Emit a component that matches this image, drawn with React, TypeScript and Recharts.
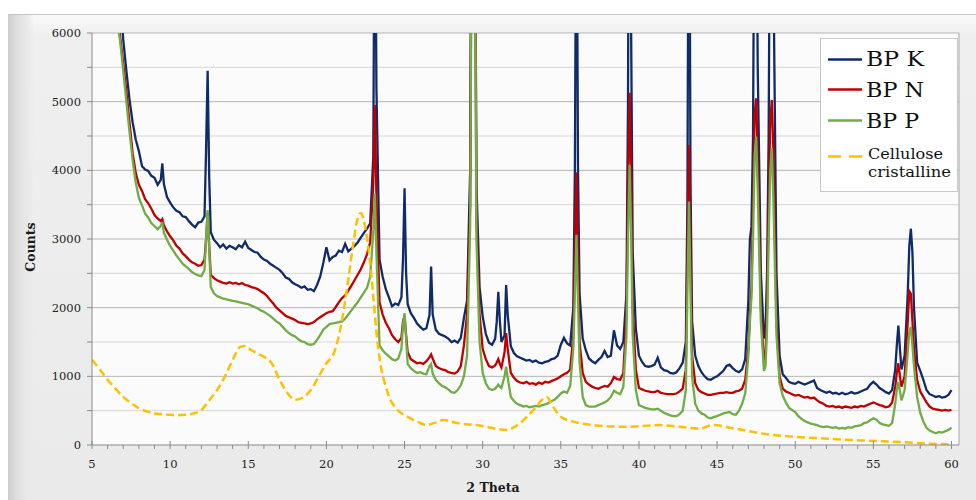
import React from "react";
import { LineChart, Line, XAxis, YAxis, CartesianGrid } from "recharts";

// 2 Theta positions (shared by the three BP series)
const twoTheta = [
  5.0,5.2,5.4,5.6,5.8,6.0,6.2,6.4,6.6,6.8,
  7.0,7.2,7.4,7.6,7.8,8.0,8.2,8.4,8.6,8.8,
  9.0,9.2,9.4,9.5,9.6,9.8,10.0,10.2,10.4,10.6,
  10.8,11.0,11.2,11.4,11.6,11.8,12.0,12.2,12.3,12.4,
  12.5,12.6,12.8,13.0,13.2,13.4,13.6,13.8,14.0,14.2,
  14.4,14.6,14.8,15.0,15.2,15.4,15.6,15.8,16.0,16.2,
  16.4,16.6,16.8,17.0,17.2,17.4,17.6,17.8,18.0,18.2,
  18.4,18.6,18.8,19.0,19.2,19.4,19.6,19.8,20.0,20.2,
  20.4,20.6,20.8,21.0,21.2,21.4,21.6,21.8,22.0,22.2,
  22.4,22.6,22.8,23.0,23.1,23.2,23.4,23.6,23.8,24.0,
  24.2,24.4,24.6,24.8,24.9,25.0,25.1,25.2,25.4,25.6,
  25.8,26.0,26.2,26.4,26.6,26.7,26.8,27.0,27.2,27.4,
  27.6,27.8,28.0,28.2,28.4,28.6,28.8,29.0,29.2,29.3,
  29.4,29.5,29.6,29.8,30.0,30.2,30.4,30.6,30.8,30.9,
  31.0,31.1,31.2,31.4,31.5,31.6,31.8,32.0,32.2,32.4,
  32.6,32.8,33.0,33.2,33.4,33.6,33.8,34.0,34.2,34.4,
  34.6,34.8,35.0,35.2,35.4,35.6,35.8,35.9,36.0,36.1,
  36.2,36.4,36.6,36.8,37.0,37.2,37.4,37.6,37.8,38.0,
  38.2,38.4,38.6,38.8,39.0,39.2,39.3,39.4,39.5,39.6,
  39.8,40.0,40.2,40.4,40.6,40.8,41.0,41.2,41.4,41.6,
  41.8,42.0,42.2,42.4,42.6,42.8,43.0,43.1,43.2,43.3,
  43.4,43.6,43.8,44.0,44.2,44.4,44.6,44.8,45.0,45.2,
  45.4,45.6,45.8,46.0,46.2,46.4,46.6,46.8,47.0,47.1,
  47.2,47.3,47.4,47.5,47.6,47.8,48.0,48.1,48.2,48.3,
  48.4,48.5,48.6,48.8,49.0,49.2,49.4,49.6,49.8,50.0,
  50.2,50.4,50.6,50.8,51.0,51.2,51.4,51.6,51.8,52.0,
  52.2,52.4,52.6,52.8,53.0,53.2,53.4,53.6,53.8,54.0,
  54.2,54.4,54.6,54.8,55.0,55.2,55.4,55.6,55.8,56.0,
  56.2,56.4,56.5,56.6,56.7,56.8,57.0,57.2,57.3,57.4,
  57.5,57.6,57.8,58.0,58.2,58.4,58.6,58.8,59.0,59.2,
  59.4,59.6,59.8,60.0,
];

const bpK = [
  16000,14500,13000,11800,10600,9600,8700,7900,7200,6500,
  5900,5450,5030,4700,4450,4280,4060,4010,3990,3920,
  3890,3790,3860,4100,3800,3610,3530,3460,3410,3390,
  3330,3320,3260,3210,3170,3240,3250,3330,4300,5450,
  3900,3100,2990,2940,2880,2920,2860,2900,2880,2850,
  2910,2880,2960,2870,2840,2810,2800,2740,2700,2680,
  2640,2610,2580,2550,2500,2440,2420,2370,2340,2320,
  2290,2310,2260,2270,2240,2330,2450,2650,2880,2690,
  2740,2760,2830,2810,2930,2820,2860,2900,2950,3020,
  3090,3150,3230,4200,9000,5200,2700,2450,2270,2150,
  2020,2060,2040,2150,2700,3740,2500,2050,1920,1850,
  1770,1720,1680,1700,1900,2600,1900,1680,1620,1600,
  1580,1550,1500,1520,1490,1560,1850,2100,4000,9000,
  15000,9000,3800,2300,1870,1620,1490,1460,1550,1800,
  2230,1800,1500,1600,2330,1900,1440,1340,1290,1270,
  1250,1230,1240,1210,1230,1200,1190,1210,1220,1250,
  1260,1300,1460,1560,1480,1450,2000,4000,9000,4000,
  2200,1550,1380,1260,1220,1190,1240,1280,1370,1280,
  1300,1670,1450,1400,1500,2200,5000,12000,6000,2800,
  1700,1300,1210,1150,1140,1150,1170,1270,1130,1090,
  1080,1050,1040,1060,1120,1200,1500,3500,10000,3800,
  1800,1300,1150,1060,1000,960,950,980,1000,1040,
  1080,1150,1170,1120,1080,1060,1100,1250,2100,3000,
  3180,4500,9000,9000,5500,2500,1550,1700,2500,4500,
  9000,10000,7000,2500,1300,1030,980,920,900,890,
  920,900,880,900,920,940,830,800,780,760,
  780,750,760,740,760,740,750,770,750,760,
  780,800,820,880,920,880,830,800,770,750,
  800,1100,1450,1740,1400,1100,1300,2200,2900,3150,
  2800,2000,1200,1080,950,800,740,720,700,710,
  690,700,730,800,
];

const bpN = [
  14000,12500,11200,10000,9000,8100,7400,6800,6300,5950,
  5550,5150,4700,4250,3960,3790,3700,3580,3520,3440,
  3350,3300,3260,3290,3200,3110,3040,2980,2900,2860,
  2790,2750,2700,2660,2640,2610,2620,2700,3000,3380,
  2900,2480,2430,2400,2380,2360,2350,2370,2350,2360,
  2340,2360,2330,2320,2300,2290,2270,2240,2210,2170,
  2110,2060,2000,1960,1920,1880,1860,1840,1820,1790,
  1780,1770,1760,1770,1790,1830,1860,1890,1920,1940,
  1950,2010,2080,2140,2180,2250,2320,2400,2480,2560,
  2660,2780,2950,3800,4950,3600,2080,1900,1780,1700,
  1600,1540,1500,1560,1800,1880,1600,1350,1250,1220,
  1190,1200,1180,1220,1280,1320,1260,1150,1120,1100,
  1090,1060,1050,1040,1070,1150,1450,1900,3500,8500,
  14000,8500,3300,1900,1400,1250,1150,1130,1160,1200,
  1250,1180,1130,1350,1630,1400,1050,980,930,910,
  900,920,890,900,880,910,890,920,910,930,
  950,970,1000,1030,1050,1100,1600,2800,3970,2700,
  1500,1050,920,880,850,830,820,840,860,850,
  900,990,960,950,1050,1900,3800,5130,3900,2000,
  1100,830,810,790,780,770,770,790,760,750,
  740,740,740,750,780,820,1100,2800,4370,2800,
  1300,900,800,770,750,730,730,740,750,760,
  760,770,760,760,780,790,820,950,1400,1900,
  2300,3500,4800,5050,4200,2000,1200,1300,2000,3500,
  4700,5025,4300,1800,1000,820,780,760,740,720,
  730,710,690,700,680,690,650,620,600,570,
  560,570,550,560,540,560,550,540,560,550,
  570,560,580,600,620,600,580,570,550,560,
  620,850,1050,1190,1000,850,1000,1800,2240,2200,
  1800,1400,950,780,700,620,560,530,520,510,
  500,510,500,510,
];

const bpP = [
  13500,12100,10900,9800,8800,7950,7250,6650,6200,5880,
  5450,5000,4560,4150,3820,3600,3490,3370,3310,3230,
  3190,3140,3190,3250,3090,2990,2900,2830,2760,2700,
  2640,2600,2560,2520,2490,2470,2460,2550,3000,3420,
  2850,2300,2210,2170,2150,2130,2120,2110,2100,2090,
  2080,2070,2060,2050,2030,2010,1990,1960,1940,1910,
  1880,1840,1800,1770,1720,1670,1630,1600,1580,1540,
  1510,1500,1470,1460,1470,1530,1600,1680,1720,1760,
  1770,1780,1790,1800,1840,1900,1960,2020,2080,2150,
  2220,2290,2450,3100,3660,2800,1450,1380,1330,1290,
  1250,1230,1260,1400,1750,1920,1550,1180,1120,1080,
  1050,1060,1040,1030,1150,1180,1040,950,900,860,
  840,810,770,760,800,870,1000,1300,3200,8000,
  13000,8000,3000,1500,1050,900,820,800,820,850,
  880,850,830,1000,1140,980,700,640,600,580,
  560,570,550,560,570,560,580,590,610,640,
  660,700,750,780,760,860,1400,2200,3060,2100,
  1200,700,580,560,560,560,580,600,620,650,
  700,790,760,740,850,1600,3000,4080,3100,1600,
  800,580,560,540,530,520,520,530,500,470,
  450,430,420,420,450,500,800,2200,3545,2200,
  1000,600,500,460,440,400,390,410,420,440,
  460,470,480,450,440,500,600,750,1300,1800,
  2150,3000,4200,4490,3700,1800,1080,1150,1700,3000,
  4000,4320,3600,1600,900,720,620,540,510,480,
  420,380,350,330,310,300,290,270,260,270,
  260,250,260,240,250,240,260,250,270,280,
  290,320,330,360,390,370,320,300,290,280,
  320,600,800,920,780,650,800,1350,1650,1720,
  1450,1150,700,470,340,250,210,190,170,190,
  180,200,220,250,
];

// Cellulose cristalline (smooth reference pattern)
const celluloseX = [
  5,5.5,6,6.5,7,7.5,8,8.5,9,9.5,
  10,10.5,11,11.5,12,12.5,13,13.5,14,14.5,
  14.8,15.2,15.6,16,16.5,17,17.5,18,18.5,19,
  19.5,20,20.5,20.9,21.3,21.7,22,22.2,22.5,22.8,
  23,23.2,23.45,23.8,24.1,24.6,25.2,26,26.4,27,
  27.5,28,28.5,29.6,30.7,31.5,32.4,33.25,34.1,34.5,
  35,35.8,37.1,39.2,41.3,42.6,43.9,44.7,46.1,47.8,
  49.9,51.5,53,55,57,58.5,60,
];
const celluloseY = [
  1240,1100,950,820,700,610,535,490,460,450,
  440,435,440,460,510,650,800,995,1240,1430,
  1440,1380,1330,1285,1190,950,760,660,690,800,
  995,1190,1350,1700,2250,2900,3300,3380,3150,2650,
  2160,1650,1190,850,655,500,410,320,290,330,
  365,340,315,290,245,220,320,510,700,560,
  410,340,290,265,290,265,240,290,240,170,
  120,100,80,60,40,20,10,
];

const xTicks = [
  5,6,7,8,9,10,11,12,13,14,15,16,17,18,19,20,21,22,23,24,25,26,27,28,29,30,
  31,32,33,34,35,36,37,38,39,40,41,42,43,44,45,46,47,48,49,50,51,52,53,54,55,56,57,58,59,60,
];
const yTicks = [0,500,1000,1500,2000,2500,3000,3500,4000,4500,5000,5500,6000];
const yMajor = [1000,2000,3000,4000,5000,6000];
const yMinor = [500,1500,2500,3500,4500,5500];
const X_MAX = 60.48;

const seriesNames = ["BP K", "BP N", "BP P", "Cellulose cristalline"];
const C_K = "#0f2b69";
const C_N = "#c00000";
const C_P = "#70ad47";
const C_C = "#ffc000";
const SERIF = '"DejaVu Serif", "Liberation Serif", serif';

const rows = twoTheta.map((x, i) => ({ x, k: bpK[i], n: bpN[i], p: bpP[i] }));
const cellRows = celluloseX.map((x, i) => ({ x, c: celluloseY[i] }));

function XTick(props: any) {
  const { x, y, payload } = props;
  const v = payload.value;
  const major = v % 5 === 0;
  return (
    <g>
      <line x1={x} x2={x} y1={major ? y - 4 : y} y2={y + 4} stroke="#8a8a8a" strokeWidth={1} />
      {major && (
        <text x={x} y={y + 23} textAnchor="middle" fontFamily={SERIF} fontSize={11.5} fill="#222">
          {v}
        </text>
      )}
    </g>
  );
}

function YTick(props: any) {
  const { x, y, payload } = props;
  const v = payload.value;
  const major = v % 1000 === 0;
  return (
    <g>
      <line x1={x - 5} x2={x} y1={y} y2={y} stroke="#8a8a8a" strokeWidth={1} />
      {major && (
        <text x={x - 11} y={y + 4} textAnchor="end" fontFamily={SERIF} fontSize={11.5} fill="#222">
          {v}
        </text>
      )}
    </g>
  );
}

export default function App() {
  return (
    <div style={{ position: "fixed", left: 0, top: 0, width: 976, height: 500, background: "#ffffff", overflow: "hidden" }}>
      <div
        style={{
          position: "absolute", left: 8, top: 14, width: 968, height: 486,
          background: "linear-gradient(180deg, #f9f9f9 0px, #efefef 20px, #eaeaea 100%)",
          borderTop: "1px solid #c6c6c6",
        }}
      />
      <div
        style={{
          position: "absolute", left: 8, top: 15, width: 26, height: 485,
          background: "linear-gradient(90deg, #cdcdcd 0px, #dedede 8px, #e8e8e8 18px, rgba(234,234,234,0) 26px)",
        }}
      />
      <div style={{ position: "absolute", left: 0, top: 0 }}>
        <LineChart width={976} height={500} margin={{ top: 33, right: 17, bottom: 25, left: 32 }}>
          <CartesianGrid vertical={false} horizontalValues={yMinor} stroke="#d6d6d6" fill="#fbfbfb" />
          <CartesianGrid vertical={false} horizontalValues={yMajor} stroke="#b5b5b5" />
          <CartesianGrid horizontal={false} verticalValues={[X_MAX]} stroke="#a8a8a8" />
          <XAxis
            type="number"
            dataKey="x"
            domain={[5, X_MAX]}
            allowDataOverflow
            ticks={xTicks}
            interval={0}
            tickSize={0}
            tickMargin={0}
            tickLine={false}
            axisLine={{ stroke: "#8a8a8a" }}
            height={30}
            tick={(p: any) => <XTick {...p} />}
          />
          <YAxis
            type="number"
            domain={[0, 6000]}
            allowDataOverflow
            ticks={yTicks}
            interval={0}
            tickSize={0}
            tickMargin={0}
            tickLine={false}
            axisLine={{ stroke: "#8a8a8a" }}
            width={60}
            tick={(p: any) => <YTick {...p} />}
          />
          <Line data={rows} dataKey="k" name={seriesNames[0]} type="linear" stroke={C_K} strokeWidth={2.3} dot={false} isAnimationActive={false} />
          <Line data={rows} dataKey="n" name={seriesNames[1]} type="linear" stroke={C_N} strokeWidth={2.3} dot={false} isAnimationActive={false} />
          <Line data={rows} dataKey="p" name={seriesNames[2]} type="linear" stroke={C_P} strokeWidth={2.3} dot={false} isAnimationActive={false} />
          <Line data={cellRows} dataKey="c" name={seriesNames[3]} type="monotone" stroke={C_C} strokeWidth={2.5} strokeDasharray="8 4" dot={false} isAnimationActive={false} />
        </LineChart>
      </div>
      <svg width={976} height={500} style={{ position: "absolute", left: 0, top: 0, pointerEvents: "none" }}>
        <text x={30} y={247} transform="rotate(-90 30 247)" textAnchor="middle" dominantBaseline="central" fontFamily={SERIF} fontSize={12.5} fontWeight="bold" fill="#1a1a1a">
          Counts
        </text>
        <text x={493} y={492} textAnchor="middle" fontFamily={SERIF} fontSize={12.5} fontWeight="bold" fill="#1a1a1a">
          2 Theta
        </text>
        <rect x={820.5} y={38.5} width={137} height={153} fill="#ffffff" stroke="#c8c8c8" />
        <line x1={828} x2={862} y1={59.5} y2={59.5} stroke={C_K} strokeWidth={2.5} />
        <text x={866} y={66} fontFamily={SERIF} fontSize={21} fill="#111" textLength={58} lengthAdjust="spacingAndGlyphs">{seriesNames[0]}</text>
        <line x1={828} x2={862} y1={89.5} y2={89.5} stroke={C_N} strokeWidth={2.5} />
        <text x={866} y={97} fontFamily={SERIF} fontSize={21} fill="#111" textLength={58} lengthAdjust="spacingAndGlyphs">{seriesNames[1]}</text>
        <line x1={828} x2={862} y1={120.5} y2={120.5} stroke={C_P} strokeWidth={2.5} />
        <text x={866} y={128} fontFamily={SERIF} fontSize={21} fill="#111" textLength={53} lengthAdjust="spacingAndGlyphs">{seriesNames[2]}</text>
        <line x1={828} x2={862} y1={156.5} y2={156.5} stroke={C_C} strokeWidth={2.5} strokeDasharray="13 8" />
        <text x={868} y={159} fontFamily={SERIF} fontSize={14.5} fill="#111" textLength={75} lengthAdjust="spacingAndGlyphs">Cellulose</text>
        <text x={868} y={177} fontFamily={SERIF} fontSize={14.5} fill="#111" textLength={83} lengthAdjust="spacingAndGlyphs">cristalline</text>
      </svg>
    </div>
  );
}
